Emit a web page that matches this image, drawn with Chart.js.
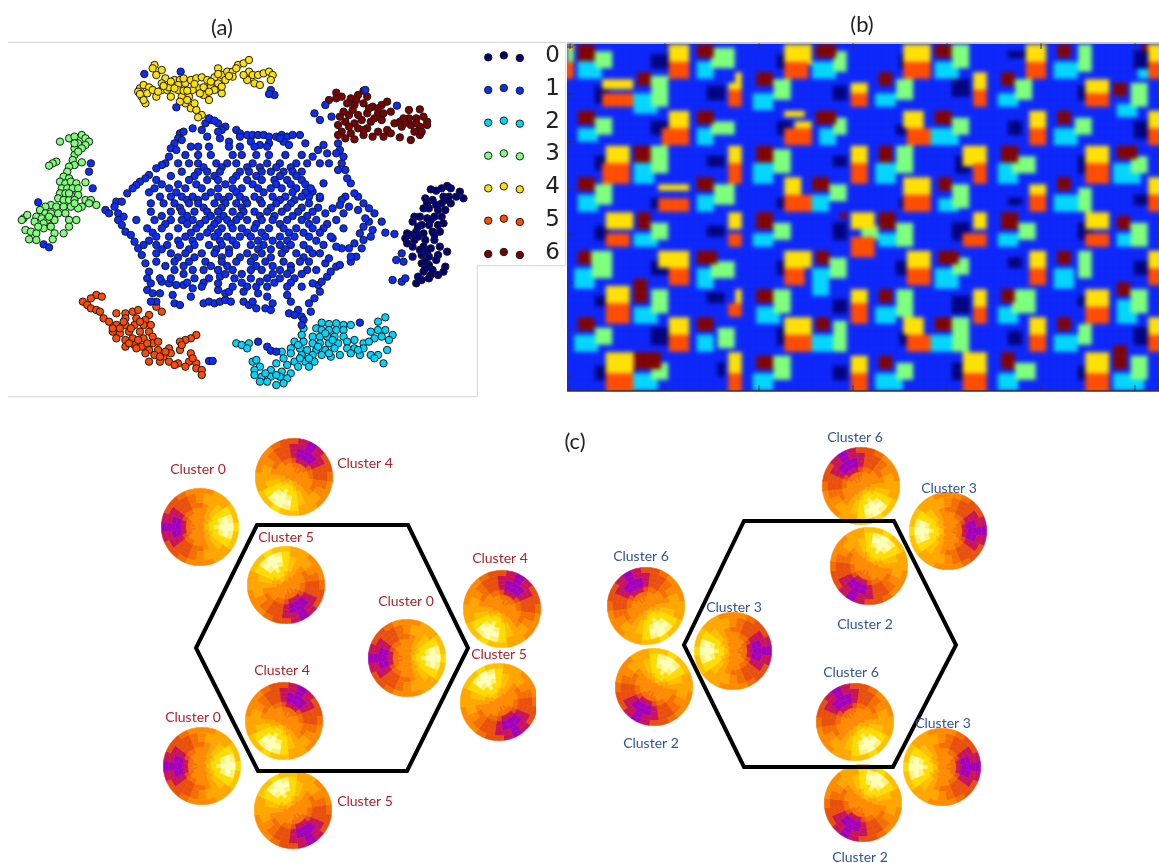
<!DOCTYPE html>
<html><head><meta charset="utf-8">
<style>
html,body{margin:0;padding:0;background:#fff;width:1159px;height:863px;overflow:hidden}
canvas{position:absolute;display:block}
#heatWrap{position:absolute;left:567px;top:44px;width:592px;height:347px;overflow:hidden}
#heat{left:-10px;top:-10px;filter:blur(2px)}
#a{left:0;top:0;z-index:2;filter:blur(.45px)}
#page{left:0;top:0;z-index:3;pointer-events:none}
.disk{z-index:1;filter:blur(.7px)}
</style>
<script src="https://cdn.jsdelivr.net/npm/chart.js@4"></script>
</head><body>
<canvas id="a" width="570" height="400"></canvas>
<div id="heatWrap"><canvas id="heat" width="612" height="367"></canvas></div>
<canvas id="page" width="1159" height="863"></canvas>
<script>
/* ---------- panel (a): embedding points per cluster ---------- */
const classNames=['0','1','2','3','4','5','6'];
const classColors=['#00007f','#0a2cff','#00d5ff','#7dff7a','#ffe000','#ff4a00','#7f0000'];
const cluster4=[[425,195],[420,205],[445,210],[430,225],[455,235],[445,250],[385,265],[395,255],[410,262],[380,275],[390,290],[400,310],[430,290],[445,270],[460,270],[480,240],[495,240],[490,255],[510,250],[505,235],[525,240],[540,235],[555,232],[570,240],[580,260],[600,205],[610,225],[625,215],[640,215],[655,195],[670,190],[685,215],[695,225],[710,225],[725,220],[740,215],[750,225],[680,240],[700,250],[715,255],[745,240],[590,270],[600,250],[620,240],[640,230],[610,280],[575,300],[560,285],[545,265],[530,270],[520,290],[500,290],[510,310],[525,325],[540,330],[555,345],[545,352],[490,270],[470,290],[465,262],[505,272],[535,252],[560,262],[590,232],[600,222],[685,180],[405,280],[420,270],[515,272],[575,275],[435,275],[450,258],[480,265],[515,300],[535,310],[550,280],[580,245],[610,260],[630,228],[650,205],[670,225],[395,300],[385,282],[470,245],[495,305]];
const cluster3=[[190,415],[205,410],[225,405],[235,415],[245,425],[165,425],[215,430],[235,435],[205,445],[225,445],[205,465],[200,480],[205,495],[225,487],[155,485],[145,490],[135,497],[190,500],[185,515],[175,530],[190,535],[165,545],[180,550],[195,545],[210,550],[235,547],[170,565],[185,565],[200,565],[215,565],[165,580],[180,580],[195,585],[215,585],[160,595],[175,600],[190,600],[205,600],[235,600],[250,600],[265,615],[245,610],[225,620],[140,615],[125,620],[110,630],[155,620],[175,620],[195,620],[215,625],[125,640],[140,640],[160,640],[180,640],[100,650],[115,655],[130,660],[150,660],[190,660],[210,660],[65,655],[75,645],[95,665],[120,670],[140,680],[190,680],[70,690],[85,695],[100,700],[120,685],[150,700],[175,700],[80,718],[100,720],[145,718],[60,660],[205,430],[215,455],[190,580],[205,610],[135,650],[105,680]];
const cluster0=[[1230,558],[1215,565],[1185,568],[1200,572],[1240,565],[1265,575],[1275,595],[1255,590],[1235,590],[1220,590],[1170,595],[1190,600],[1215,610],[1240,610],[1165,625],[1180,625],[1205,630],[1225,630],[1140,650],[1155,650],[1175,655],[1195,650],[1215,650],[1135,665],[1160,675],[1180,675],[1205,675],[1120,700],[1145,695],[1165,700],[1190,695],[1210,695],[1115,715],[1140,720],[1170,720],[1195,720],[1120,730],[1165,740],[1185,745],[1210,740],[1135,770],[1160,765],[1180,770],[1205,765],[1230,755],[1160,790],[1180,795],[1225,800],[1165,815],[1185,825],[1205,825],[1220,815],[1145,850],[1160,840],[1180,835],[1150,830],[1170,805],[1190,810],[1175,755],[1150,710],[1130,705],[1185,660],[1200,615],[1230,600],[1175,610],[1220,670],[1150,680],[1195,705],[1155,750],[1200,780],[1170,785],[1135,740]];
const cluster6=[[925,278],[905,300],[925,295],[940,290],[965,295],[985,285],[1000,272],[1010,290],[955,310],[975,315],[1000,310],[1025,320],[1050,315],[1065,305],[935,350],[960,345],[985,345],[1010,340],[1040,340],[1075,335],[1125,330],[1155,328],[930,375],[950,365],[975,370],[1020,365],[1050,360],[1100,365],[1125,355],[1145,355],[1175,365],[1165,350],[940,395],[965,400],[985,385],[1010,385],[1040,395],[1065,390],[1105,380],[1130,375],[1155,380],[1175,375],[950,415],[975,418],[1000,405],[1025,410],[1055,410],[1100,412],[1130,420],[1155,405],[1160,395],[970,330],[1030,355],[995,360],[1115,368],[1140,395],[960,380],[1040,325],[1015,325],[945,335],[980,300],[1055,340],[1075,400],[1145,370],[1110,355],[930,405],[1000,390],[1085,370]];
const cluster2=[[1060,952],[1040,965],[885,968],[905,972],[925,970],[945,975],[965,975],[870,985],[885,990],[905,990],[925,990],[945,990],[835,985],[1020,995],[1040,990],[1060,990],[1080,1005],[830,1005],[860,1010],[880,1010],[900,1010],[920,1010],[945,1010],[1030,1015],[1050,1010],[1070,1020],[810,1025],[835,1025],[860,1030],[880,1030],[905,1030],[930,1030],[955,1025],[975,1020],[1000,1030],[1015,1025],[650,1030],[665,1035],[685,1030],[680,1045],[800,1045],[825,1045],[845,1050],[870,1050],[895,1050],[920,1045],[955,1045],[975,1045],[1000,1045],[1065,1050],[775,1055],[800,1060],[830,1065],[860,1065],[885,1065],[910,1070],[935,1065],[965,1060],[990,1065],[1040,1065],[1020,1065],[780,1075],[810,1085],[840,1085],[865,1085],[1055,1090],[1030,1075],[695,1085],[705,1080],[760,1090],[790,1095],[820,1100],[850,1100],[715,1100],[700,1110],[745,1110],[775,1115],[800,1120],[700,1125],[720,1130],[745,1130],[770,1130],[790,1135],[715,1145],[735,1145],[760,1155],[780,1150],[895,1000],[915,1020],[875,1040],[905,1060],[850,1075],[825,1075],[820,1035],[760,1125],[730,1120],[985,1050]];
const cluster5=[[265,885],[280,890],[250,895],[228,905],[240,915],[250,925],[265,930],[275,935],[320,940],[345,940],[365,935],[380,930],[410,945],[285,955],[300,965],[345,955],[375,955],[400,960],[320,975],[345,975],[370,975],[395,975],[415,975],[310,995],[330,1000],[355,995],[385,995],[410,995],[320,1015],[345,1020],[365,1015],[395,1015],[420,1010],[540,1005],[525,1015],[510,1020],[495,1025],[345,1040],[370,1035],[390,1040],[420,1030],[435,1025],[375,1045],[410,1050],[435,1050],[465,1045],[495,1050],[410,1085],[425,1065],[450,1070],[470,1060],[525,1060],[440,1085],[465,1085],[490,1090],[520,1085],[540,1090],[510,1100],[540,1105],[555,1110],[555,1125],[430,920],[445,935],[480,1095],[360,985],[330,985],[380,1020],[405,1030],[500,1035],[455,1055],[340,965],[385,965],[310,985],[355,1030],[400,1060],[440,1070],[530,1075]];
const cluster1Edge=[[495,400],[505,395],[490,415],[480,430],[500,420],[470,445],[485,450],[465,470],[455,490],[445,495],[430,505],[410,525],[400,535],[385,545],[375,555],[365,565],[350,580],[320,605],[335,605],[290,630],[300,640],[315,620],[325,640],[340,650],[325,660],[335,675],[345,695],[360,705],[370,725],[380,745],[390,765],[400,790],[410,815],[405,835],[415,850],[405,870],[420,880],[440,880],[430,905],[415,905],[475,885],[480,910],[495,915],[530,865],[505,855],[485,855],[465,850],[445,845],[525,890],[560,910],[575,905],[590,910],[605,905],[620,900],[635,905],[620,880],[630,875],[600,870],[600,850],[605,830],[600,810],[670,905],[685,915],[695,905],[705,925],[730,925],[745,930],[750,910],[735,890],[710,880],[705,860],[715,845],[680,860],[670,875],[790,885],[800,905],[795,940],[820,930],[810,945],[830,950],[855,935],[850,910],[865,895],[880,875],[875,855],[885,845],[900,830],[910,815],[925,800],[935,795],[895,790],[905,775],[860,850],[965,785],[980,770],[995,745],[1000,720],[1020,710],[1025,690],[1015,665],[1005,655],[1050,665],[1030,640],[1015,625],[1000,610],[985,590],[975,580],[950,590],[940,600],[935,615],[915,625],[895,640],[960,620],[945,640],[985,630],[1000,680],[990,700],[975,730],[960,745],[940,745],[965,770],[925,740],[915,715],[1060,698],[1085,702],[965,550],[955,535],[950,510],[940,490],[945,470],[935,450],[930,430],[925,460],[890,435],[875,450],[860,470],[880,490],[900,460],[905,490],[930,510],[890,550],[860,575],[850,590],[880,595],[650,390],[660,400],[680,405],[695,405],[710,405],[725,405],[740,410],[760,410],[775,405],[790,410],[805,405],[825,405],[780,425],[795,435],[840,430],[770,415],[740,430],[715,435],[690,425],[660,410],[630,425],[605,415],[570,410],[555,390],[530,385],[620,380],[600,370],[580,360],[565,370],[610,390],[600,395]];
const cluster1Stray=[[120,733],[135,742],[105,607],[245,515],[255,565],[250,490],[1105,760],[1090,780],[1110,785],[1080,840],[1105,845],[1115,835],[895,315],[865,340],[880,360],[912,350],[1092,317],[1005,270],[710,1025],[735,1040],[745,1052],[760,1055],[835,960],[830,975],[990,968],[575,1083],[585,1083],[745,270],[755,285],[740,282],[397,222],[497,215],[485,322],[575,355],[590,362]];
const cluster1Rows=[
[440,[525,545,575,630,660,700,735]],[465,[510,545,580,640,665,705,740,785,830]],[490,[490,520,545,595,625,650,695,735,770,815,845]],
[502,[560,610,680,715,760,800]],[515,[500,545,570,605,660,685,720,745,780,805,830]],[528,[470,535,590,650,705,770,815]],
[540,[430,520,570,600,640,680,720,755,790,830]],[553,[445,490,540,620,695,760,800,840]],[565,[425,465,510,555,600,640,665,710,745,775,815,855]],
[577,[410,485,580,650,725,805,840]],[590,[440,470,500,530,565,600,630,660,700,750,785,830,880]],[600,[515,545,615,675,715,770,810]],
[610,[415,450,480,520,545,590,620,650,680,720,760,800,850]],[623,[495,560,610,665,745,790,830,875]],[635,[415,470,500,535,570,600,640,670,700,735,775,820,860]],
[648,[445,515,580,615,660,715,755,805,845]],[660,[375,425,470,500,530,565,600,625,650,680,720,750,790,830,870,925]],[672,[455,515,550,590,635,705,770,850,900]],
[685,[405,445,490,540,580,610,640,665,700,740,780,815,860,890,945]],[698,[420,525,570,600,680,720,795,835,880]],[710,[430,465,510,550,590,625,660,690,730,770,810,850,910]],
[722,[410,490,530,605,640,710,750,790,870]],[735,[395,430,460,495,535,575,610,650,690,725,770,800,835,890]],[748,[445,520,595,630,710,745,785,850]],
[760,[430,470,510,555,590,630,680,720,775,815,860,880]],[772,[490,535,610,660,700,745,835]],[785,[430,480,520,565,610,650,690,730,780,825,850]],
[798,[455,505,580,625,705,750,800]],[810,[480,530,560,600,640,690,720,770,800,845,870]],[822,[505,620,665,750,790,830]],
[835,[440,470,535,575,645,690,735,770,810]],[848,[515,560,665,755,800]],[860,[555,640,735,790,830]]
];
const legendXs=[1343,1386,1430];
const legendYs=[[172,166,174],[270,264,272],[368,362,371],[467,460,469],[565,559,568],[662,656,666],[762,756,765]];
const frameLines=[[[22,127],[1555,127]],[[22,1190],[1313,1190]],[[1313,797],[1313,1190]],[[1313,797],[1556,797]],[[1556,127],[1556,797]]];

/* ---------- panel (b): cluster-label matrix, blocks per class ---------- */
const matrixBackground=1;
const block6=[[577,593,45,60],[577,593,110,125],[577,593,177,190],[577,590,250,265],[577,593,317,332],[637,650,72,87],[633,650,147,162],[637,650,213,228],[633,648,280,303],[635,660,353,368],[698,713,44,58],[698,713,110,125],[698,713,177,190],[698,716,250,265],[698,713,317,332],[757,773,72,87],[757,773,147,163],[757,773,213,228],[757,773,288,303],[757,772,355,370],[817,837,44,57],[817,837,110,125],[812,828,177,190],[817,828,250,265],[817,828,317,332],[878,893,72,87],[878,893,147,162],[880,895,213,228],[878,893,288,303],[878,893,355,370],[935,950,45,58],[935,950,110,125],[938,952,177,192],[937,960,250,265],[935,950,317,332],[1000,1015,72,87],[1000,1017,147,162],[1002,1017,213,228],[1000,1016,288,303],[1000,1015,353,368],[1057,1072,45,58],[1057,1072,110,125],[1057,1072,177,192],[1057,1072,250,265],[1057,1072,317,332],[1115,1128,82,97],[1117,1137,147,160],[1117,1130,215,228],[1117,1130,282,297],[1115,1128,345,370],[1140,1147,44,50],[840,847,213,220]];
const block3=[[595,612,50,68],[595,612,117,135],[595,612,183,203],[593,612,250,277],[595,612,327,343],[653,668,77,107],[652,668,147,173],[652,668,222,238],[652,668,288,313],[653,668,363,380],[710,733,47,67],[710,733,120,135],[713,733,185,203],[710,733,260,277],[717,733,327,348],[773,790,80,98],[773,790,148,173],[773,790,222,238],[773,790,290,313],[773,792,355,380],[832,847,52,70],[832,847,117,135],[830,847,185,202],[830,847,258,278],[833,847,320,350],[895,912,80,98],[895,912,147,173],[895,913,222,247],[895,912,288,315],[895,913,363,380],[953,970,45,67],[952,970,118,135],[953,970,185,208],[953,970,258,275],[952,970,318,352],[1017,1033,80,98],[1013,1035,157,173],[1018,1035,222,240],[1013,1035,288,313],[1015,1035,363,380],[1077,1092,45,70],[1075,1092,118,135],[1077,1092,187,210],[1077,1092,250,277],[1077,1092,325,343],[1132,1147,82,107],[1132,1148,157,173],[1132,1148,222,247],[1132,1148,288,313],[1132,1148,355,380],[567,572,50,60],[860,877,228,238]];
const block2=[[577,600,63,78],[577,598,128,143],[577,598,195,210],[575,593,268,287],[575,597,335,352],[635,657,93,113],[635,655,165,182],[633,657,232,248],[635,657,307,323],[635,657,373,390],[698,713,63,78],[698,713,128,145],[698,713,195,210],[698,715,268,287],[698,715,335,352],[753,773,92,110],[753,773,165,182],[753,773,232,248],[755,780,307,323],[753,773,373,390],[813,837,63,80],[820,837,128,145],[813,830,195,210],[812,830,270,295],[813,837,335,352],[877,895,92,107],[877,895,165,182],[878,900,232,248],[877,895,307,323],[875,903,372,390],[935,960,63,78],[933,957,130,145],[937,960,197,210],[935,960,268,287],[933,953,335,352],[998,1017,92,107],[998,1017,165,182],[998,1017,232,248],[998,1017,307,323],[998,1017,372,390],[1055,1077,63,80],[1055,1077,130,145],[1055,1077,195,210],[1055,1073,268,287],[1055,1077,335,352],[1117,1137,103,117],[1113,1140,165,182],[1117,1143,232,247],[1117,1137,300,323],[1113,1143,372,390],[1137,1147,67,78]];
const block0=[[595,610,87,103],[595,610,157,170],[595,610,225,240],[597,610,295,307],[597,612,365,380],[653,667,55,68],[653,667,122,133],[653,663,200,207],[653,667,260,275],[653,667,328,343],[708,723,88,98],[708,723,157,167],[708,723,228,237],[708,723,293,303],[717,723,363,377],[777,790,55,68],[777,790,120,133],[777,790,197,207],[777,790,263,275],[777,790,328,343],[833,847,88,100],[833,847,157,167],[835,847,223,240],[833,847,300,313],[832,847,367,378],[900,913,55,68],[898,913,125,135],[900,913,197,207],[897,913,262,275],[900,913,333,343],[953,968,80,97],[955,970,157,172],[953,970,223,238],[953,968,297,313],[953,970,363,380],[1010,1025,52,58],[1010,1023,120,133],[1010,1023,197,203],[1010,1023,258,268],[1010,1023,333,343],[1077,1090,88,100],[1077,1092,157,172],[1077,1092,223,238],[1080,1093,297,307],[1077,1090,365,378],[1135,1147,52,67],[1133,1147,123,137],[1133,1147,195,203],[1133,1147,262,275],[1133,1147,328,343]];
const block4=[[603,632,80,90],[605,630,147,163],[605,632,212,230],[605,630,287,303],[605,632,353,373],[668,688,44,62],[670,688,110,127],[660,688,183,192],[660,688,250,268],[670,688,317,333],[735,743,72,88],[727,743,82,90],[727,743,147,165],[727,743,212,230],[735,743,288,305],[727,743,353,373],[783,810,44,63],[785,803,110,118],[795,810,120,128],[783,800,177,195],[785,810,250,268],[785,810,317,333],[850,866,82,92],[850,866,147,165],[850,875,212,230],[850,866,288,305],[850,866,355,373],[905,932,44,60],[905,923,110,127],[905,932,177,195],[907,932,250,268],[905,923,317,333],[972,988,72,88],[963,988,147,165],[972,988,212,230],[972,988,288,305],[963,988,353,372],[1027,1047,44,62],[1028,1045,110,128],[1028,1045,185,195],[1028,1045,250,268],[1028,1045,317,335],[1085,1110,80,92],[1085,1110,147,165],[1085,1110,212,230],[1085,1110,288,305],[1087,1110,353,372],[1150,1170,44,62],[1150,1170,110,127],[1150,1170,177,195],[1150,1170,250,268],[1150,1170,317,335],[567,572,44,50]];
const block5=[[603,632,94,107],[603,630,165,182],[605,630,232,248],[605,630,305,322],[605,632,373,400],[670,688,62,78],[662,688,128,145],[660,688,197,210],[670,688,270,285],[670,688,335,352],[727,743,90,107],[727,743,165,182],[727,743,232,248],[727,743,305,315],[727,743,373,400],[783,807,63,78],[783,810,128,145],[783,810,195,210],[785,805,270,285],[785,810,335,352],[850,866,92,107],[850,866,165,182],[850,875,237,257],[850,866,305,323],[850,866,373,400],[905,930,62,78],[907,930,128,145],[905,932,195,210],[907,932,270,285],[907,932,335,352],[972,988,90,107],[972,988,165,182],[963,988,232,248],[972,988,307,323],[963,988,373,400],[1027,1047,62,78],[1028,1045,128,145],[1028,1045,195,210],[1028,1045,270,285],[1028,1045,335,352],[1085,1110,95,107],[1085,1110,165,182],[1085,1110,232,248],[1085,1110,307,323],[1085,1110,373,400],[1150,1170,62,78],[1150,1170,128,145],[1150,1170,195,210],[1150,1170,270,285],[1150,1170,335,352],[555,574,62,78]];
const heatXTicks=[570,665,759,853,947,1041,1135];
const heatYTicks=[47,94,142,189,235,283,330,377];

/* ---------- panel (c): rosette disks, colour rings from rim to centre, half a turn each ---------- */
const diskPalette={p:'#a200ba',c:'#c8145a',d:'#e8500c',r:'#f46e04',o:'#ff8a00',l:'#ffa600',g:'#ffc000',y:'#ffdc00',f:'#fff27a',w:'#ffffbc'};
const diskHalfRings=['yggllooorddcp','wfylllorddccp','wwygllorddcpp','wfyglorrddcpp','fyyglooorrdcc','yygllooooorrr','gglloooooooro','ooooooooooooo'];
const diskNames=['Cluster 0','Cluster 4','Cluster 5','Cluster 0','Cluster 4','Cluster 5','Cluster 4','Cluster 0','Cluster 5','Cluster 6','Cluster 3','Cluster 2','Cluster 6','Cluster 2','Cluster 3','Cluster 6','Cluster 3','Cluster 2'];
const diskTurn={'Cluster 0':0,'Cluster 4':120,'Cluster 5':240,'Cluster 6':60,'Cluster 3':180,'Cluster 2':300};
const diskCx=[200,294,286,407,502,499,284,202,293,861,948,869,646,654,733,855,942,863];
const diskCy=[527,477,585,658,609,702,721,766,810,486,531,566,606,687,651,722,767,803];
const labelCx=[198,365,286,406,500,499,282,193,365,855,949,865,641,651,734,851,943,860];
const labelCy=[469,463,537,601,558,654,670,717,801,437,488,624,556,743,607,672,723,857];
const diskClipRight=[0,0,0,0,0,2,0,0,0,0,0,0,0,0,0,0,0,0];
const hexLeft=[[196,648],[257,525],[408,525],[468,648],[407,771],[258,771],[196,648],[257,525]];
const hexRight=[[684,645],[744,521],[894,521],[956,645],[893,767],[744,767],[684,645],[744,521]];
const panelTitles=[['(a)',222,28],['(b)',862,25],['(c)',575,442]];

/* ---------- build ---------- */
Chart.defaults.animation=false;
const pts=a=>a.map(p=>({x:p[0],y:p[1]}));
const cluster1=cluster1Edge.concat(cluster1Stray);
cluster1Rows.forEach(r=>r[1].forEach(x=>cluster1.push([x,r[0]])));
const classPts=[cluster0,cluster1,cluster2,cluster3,cluster4,cluster5,cluster6];
const noPad={padding:0,autoPadding:false};
const aData=[];
frameLines.forEach(l=>aData.push({type:'line',data:pts(l),borderColor:'#dcdcdc',borderWidth:1.2,pointRadius:0,order:9}));
[1,0,2,3,4,5,6].forEach(k=>{
  const legend=legendXs.map((x,i)=>[x,legendYs[k][i]]);
  aData.push({type:'scatter',label:classNames[k],data:pts(classPts[k].concat(legend)),backgroundColor:classColors[k],borderColor:'#1a1a1a',borderWidth:1,pointRadius:3.7,order:1});
});
new Chart(document.getElementById('a'),{type:'scatter',data:{datasets:aData},
 options:{responsive:false,events:[],layout:noPad,plugins:{legend:{display:false},tooltip:{enabled:false}},
  scales:{x:{type:'linear',display:false,min:0,max:1568},y:{type:'linear',display:false,min:0,max:1200,reverse:true}}},
 plugins:[{id:'legendDigits',afterDraw(c){const g=c.ctx;g.save();g.font='23px "DejaVu Sans"';g.fillStyle='#222';g.textAlign='center';g.textBaseline='middle';
   classNames.forEach((n,i)=>g.fillText(n,c.scales.x.getPixelForValue(1520),c.scales.y.getPixelForValue(legendYs[i][1]+3)));g.restore();}}]});

/* heat matrix */
const cellSize=3.5, spread=0.6;
const matrixXs=[],matrixYs=[];
for(let v=567-4*cellSize;v<1172;v+=cellSize)matrixXs.push(v);
for(let v=44-4*cellSize;v<404;v+=cellSize)matrixYs.push(v);
const matrix=matrixYs.map(()=>matrixXs.map(()=>matrixBackground));
[[block2,2],[block3,3],[block6,6],[block0,0],[block4,4],[block5,5]].forEach(([list,k])=>{
  list.forEach(b=>matrixYs.forEach((y,r)=>{const cy=y+cellSize/2;if(cy<b[2]-spread||cy>=b[3]+spread)return;
    matrixXs.forEach((x,c)=>{const cx=x+cellSize/2;if(cx>=b[0]-spread&&cx<b[1]+spread)matrix[r][c]=k;});}));
});
const heatSets=classNames.map(()=>[]);
matrix.forEach((row,r)=>row.forEach((k,c)=>heatSets[k].push({x:matrixXs[c]+cellSize/2,y:matrixYs[r]+cellSize/2})));
new Chart(document.getElementById('heat'),{type:'scatter',
 data:{datasets:heatSets.map((d,k)=>({label:classNames[k],data:d,pointStyle:'rect',pointRadius:2.8,borderWidth:0,backgroundColor:k===1?'#0a24fa':classColors[k]}))},
 options:{responsive:false,events:[],layout:noPad,plugins:{legend:{display:false},tooltip:{enabled:false}},
  scales:{x:{type:'linear',display:false,min:557,max:1169},y:{type:'linear',display:false,min:34,max:401,reverse:true}}}});

/* disks */
diskNames.forEach((name,i)=>{
  const cv=document.createElement('canvas');cv.width=78;cv.height=78;cv.className='disk';
  cv.style.left=(diskCx[i]-39)+'px';cv.style.top=(diskCy[i]-39)+'px';
  if(diskClipRight[i])cv.style.clipPath='inset(0 '+diskClipRight[i]+'px 0 0)';
  document.body.appendChild(cv);
  new Chart(cv,{type:'doughnut',
   data:{datasets:diskHalfRings.map(half=>{
     const h=Array.from(half);
     const cols=h.concat(h.slice(1,12).reverse()).map(ch=>diskPalette[ch]);
     return {data:cols.map(()=>1),backgroundColor:cols,borderColor:cols,borderWidth:.6};})},
   options:{responsive:false,events:[],cutout:0,rotation:82.5+diskTurn[name],layout:{padding:0},plugins:{legend:{display:false},tooltip:{enabled:false}}}});
});

/* page overlay: hexagons, (b) frame and ticks, text */
new Chart(document.getElementById('page'),{type:'scatter',
 data:{datasets:[
  {type:'line',data:pts(hexLeft),borderColor:'#000',borderWidth:4,pointRadius:0,borderJoinStyle:'miter',tension:0},
  {type:'line',data:pts(hexRight),borderColor:'#000',borderWidth:4,pointRadius:0,borderJoinStyle:'miter',tension:0},
  {type:'line',data:pts([[567,43],[1159,43]]),borderColor:'#888',borderWidth:1,pointRadius:0},
  {type:'line',data:pts([[567,391],[1159,391]]),borderColor:'#333',borderWidth:1.4,pointRadius:0},
  {data:heatXTicks.map(x=>({x:x,y:388})),pointStyle:'line',pointRotation:90,pointRadius:3,borderColor:'#333',borderWidth:1},
  {data:heatXTicks.map(x=>({x:x,y:46})),pointStyle:'line',pointRotation:90,pointRadius:3,borderColor:'#333',borderWidth:1},
  {data:heatYTicks.map(y=>({x:570,y:y})),pointStyle:'line',pointRadius:3,borderColor:'#333',borderWidth:1}
 ]},
 options:{responsive:false,events:[],layout:noPad,plugins:{legend:{display:false},tooltip:{enabled:false}},
  scales:{x:{type:'linear',display:false,min:0,max:1159},y:{type:'linear',display:false,min:0,max:863,reverse:true}}},
 plugins:[{id:'texts',afterDraw(c){const g=c.ctx,X=c.scales.x,Y=c.scales.y;g.save();g.textAlign='center';g.textBaseline='middle';
   g.font='22px Lato, "Open Sans"';g.fillStyle='#222';
   panelTitles.forEach(t=>g.fillText(t[0],X.getPixelForValue(t[1]),Y.getPixelForValue(t[2])));
   g.font='14px Lato, "Open Sans"';
   diskNames.forEach((n,i)=>{g.fillStyle=i<9?'#b3202a':'#2f5597';g.fillText(n,X.getPixelForValue(labelCx[i]),Y.getPixelForValue(labelCy[i]));});
   g.restore();}}]});
</script>
</body></html>
